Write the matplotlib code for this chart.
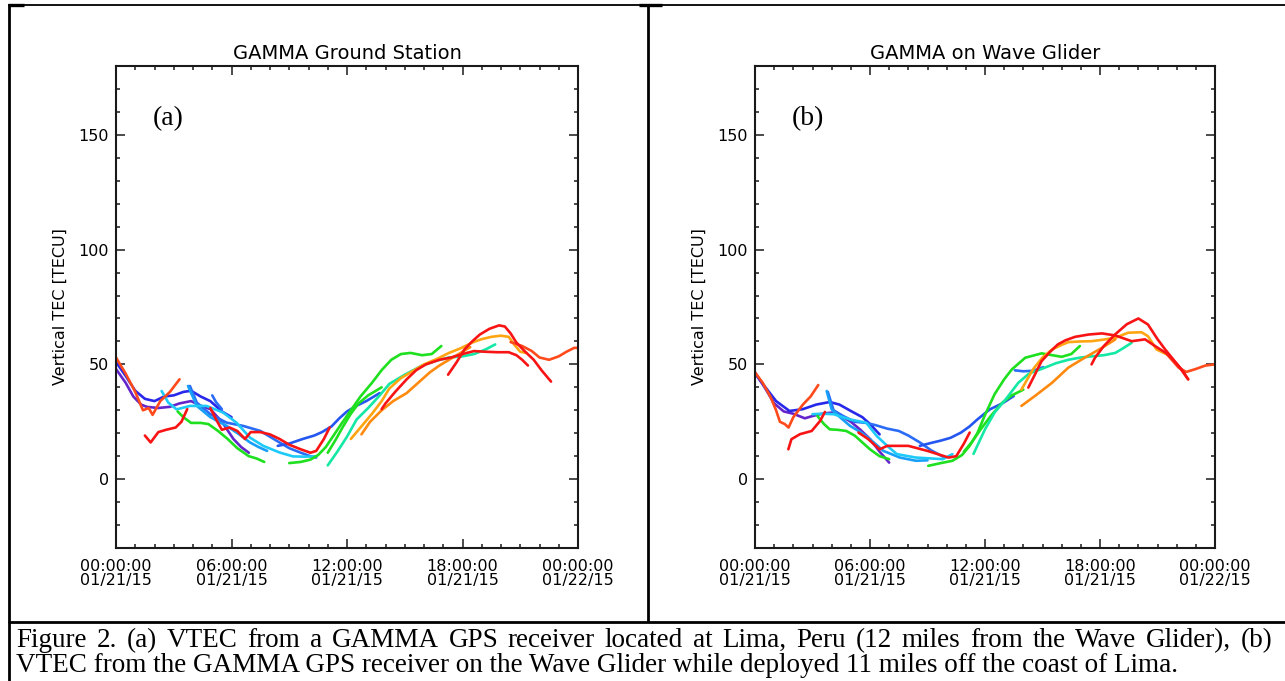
import matplotlib
matplotlib.use('Agg')
import matplotlib.pyplot as plt
from matplotlib.lines import Line2D
from matplotlib.ticker import MultipleLocator

# ---- data: hours after 00:00 UT on 01/21/15, vertical TEC [TECU] ----
# panel (a) GAMMA ground station
a_ro1_h = [0, 0.5, 1.0, 1.4, 1.7, 1.9, 2.3, 2.8, 3.3]
a_ro1_v = [53, 46, 38, 30, 31, 28, 34, 38, 43.5]
a_purple_h = [0, 0.5, 0.9, 1.3, 1.6, 2.2, 2.8, 3.3, 3.9, 4.4, 4.9, 5.5, 6.1, 6.5, 6.9]
a_purple_v = [48, 42, 36, 32.5, 31.5, 31, 31.5, 33, 34, 32, 30.5, 25, 17.5, 14, 11.5]
a_dblue_h = [0, 0.5, 1.0, 1.5, 2.0, 2.5, 3.0, 3.5, 3.9, 4.4, 4.9, 5.5, 6.0]
a_dblue_v = [51, 45, 38.5, 35, 34, 36, 36.5, 38, 38.5, 36, 34, 29.5, 27]
a_mblue_h = [3.84, 4.2, 4.9, 5.75, 6.6, 7.5, 8.35, 9.0, 9.6, 10.1, 10.4]
a_mblue_v = [40.6, 33.3, 28.3, 24.6, 23.2, 21, 16.7, 13.5, 11.5, 10, 9.4]
a_sblue_h = [5.0, 5.2, 5.5]
a_sblue_v = [36.5, 33.5, 30.5]
a_lblue_h = [3.74, 4.2, 4.9, 5.75, 6.4, 6.96, 7.4, 7.85]
a_lblue_v = [40.6, 31.9, 27, 23.2, 19.5, 16, 14, 12.3]
a_cyan_h = [2.37, 2.72, 3.15, 3.84, 4.7, 5.57, 6.26, 6.96, 7.65, 8.5, 9.2, 9.8, 10.4]
a_cyan_v = [38.4, 33.3, 30.4, 31.9, 31.9, 29, 24.6, 18.1, 14.5, 11.6, 9.9, 9.8, 9.9]
a_rblue_h = [8.4, 9.0, 9.7, 10.3, 10.7, 11.2, 11.6, 12.0, 12.5, 13.0, 13.7]
a_rblue_v = [14.5, 15.5, 17.5, 19, 20.5, 23, 26.5, 29.5, 32, 34, 37.5]
a_redlow_h = [1.5, 1.8, 2.2, 2.6, 3.1, 3.4, 3.7]
a_redlow_v = [19, 16, 20.5, 21.5, 22.5, 25, 30.5]
a_redmid_h = [4.9, 5.2, 5.5, 5.9, 6.3, 6.7, 7.0, 7.5, 8.0, 8.5, 9.0, 9.6, 10.1, 10.4, 10.8, 11.1]
a_redmid_v = [31, 26, 21.5, 22.5, 21, 17.5, 20.5, 20.5, 19.5, 17.5, 15, 13, 11.5, 12.3, 17.5, 22.5]
a_green1_h = [3.2, 3.5, 3.9, 4.4, 4.8, 5.3, 5.8, 6.3, 6.9, 7.3, 7.7]
a_green1_v = [29.5, 27, 24.5, 24.5, 24, 21, 17.5, 13.5, 10, 9, 7.5]
a_green2_h = [9.0, 9.6, 10.1, 10.5, 10.9, 11.3, 11.7, 12.2, 12.7, 13.3, 13.8, 14.3, 14.8, 15.3, 15.9, 16.4, 16.9]
a_green2_v = [7, 7.5, 8.5, 10.5, 14, 19, 24, 30, 36, 42, 47.5, 52, 54.5, 55, 54, 54.5, 58]
a_green3_h = [11.0, 11.4, 11.8, 12.2, 12.6, 13.1, 13.8]
a_green3_v = [11.5, 17, 23, 28.5, 33, 36.5, 40]
a_teal_h = [11.0, 11.5, 12.0, 12.5, 13.1, 13.7, 14.2, 15.0, 15.9, 16.6, 17.3, 18.0, 18.6, 19.2, 19.7]
a_teal_v = [6, 12, 18.5, 26, 31, 36.5, 41.5, 45.5, 49.5, 51.5, 53, 53.5, 54.5, 56.5, 58.7]
a_orA_h = [12.2, 12.7, 13.3, 13.8, 14.2, 14.8, 15.4, 16.0, 16.7, 17.3, 17.9, 18.5, 19.0, 19.5, 20.0, 20.4, 20.7, 21.0, 21.3]
a_orA_v = [17.5, 22.5, 28.5, 34, 39.5, 44, 47, 50, 52.5, 55, 57, 59.5, 61, 62, 62.5, 62, 58.5, 55.5, 55]
a_orB_h = [12.75, 13.2, 13.8, 14.4, 15.1, 15.7, 16.3, 16.8, 17.3, 17.9, 18.4]
a_orB_v = [19.5, 25, 30, 34, 37.5, 42, 46.5, 49.5, 52, 55, 57.5]
a_red1_h = [13.8, 14.0, 14.5, 15.1, 15.6, 16.1, 16.8, 17.4, 18.0, 18.6, 19.2, 19.8, 20.4, 20.8, 21.1, 21.4]
a_red1_v = [30.5, 33, 38, 43.5, 47.5, 50, 52, 53, 54.5, 55.8, 55.5, 55.3, 55.3, 54, 52, 49.5]
a_redpk_h = [17.25, 17.7, 18.1, 18.5, 18.9, 19.4, 19.9, 20.2, 20.5, 20.8, 21.2, 21.7, 22.1, 22.6]
a_redpk_v = [45.5, 51, 56.5, 60, 63, 65.5, 67, 66.5, 63.5, 59.5, 56, 52, 47.5, 42.5]
a_ro2_h = [20.5, 21.1, 21.6, 22.0, 22.5, 23.0, 23.4, 23.8, 24.0]
a_ro2_v = [59.7, 58, 55.8, 53, 52, 53.5, 55.5, 57.2, 57.2]

# panel (b) GAMMA on the Wave Glider
b_ro1_h = [0, 0.4, 0.8, 1.1, 1.3, 1.55, 1.75, 2.0, 2.5, 2.9, 3.3]
b_ro1_v = [46.5, 42, 36, 30, 25, 24, 22.5, 27, 32.5, 36, 41]
b_purple_h = [0, 0.5, 1.0, 1.5, 2.0, 2.6, 3.0, 3.5, 4.0, 4.5, 5.0, 5.5, 6.0, 6.5, 7.0]
b_purple_v = [46.5, 40, 33, 29.5, 28.5, 26.5, 27.5, 28.5, 29, 27.5, 25, 21.5, 17.5, 12, 7.2]
b_dblue_h = [0, 0.5, 1.1, 1.8, 2.5, 3.2, 3.9, 4.4, 5.0, 5.6, 6.0, 6.5]
b_dblue_v = [46, 40.5, 34, 29.7, 30.5, 32.5, 33.6, 32.5, 29.7, 27, 24, 19.5]
b_mblue_h = [3.8, 4.1, 4.6, 5.2, 5.8, 6.3, 6.9, 7.5, 8.0, 8.6, 9.2, 9.9]
b_mblue_v = [38, 30, 27.5, 25, 24.5, 23.5, 22, 21, 19, 16, 12.5, 9.4]
b_rblue_h = [8.6, 9.2, 9.7, 10.2, 10.75, 11.2, 11.6, 12.25, 12.9, 13.5]
b_rblue_v = [14.5, 15.8, 16.8, 18, 20.3, 23, 26, 30.4, 33, 36.2]
b_sblue_h = [13.56, 14.0, 14.5, 15.04]
b_sblue_v = [47.4, 47, 47.2, 48.8]
b_lblue_h = [3.74, 4.0, 4.5, 4.96, 5.5, 6.0, 6.7, 7.56, 8.4, 9.0]
b_lblue_v = [38.4, 30.4, 26.5, 23.2, 20.5, 17.4, 12.3, 9.4, 8, 8.2]
b_cyan_h = [3.0, 3.5, 4.1, 4.96, 5.8, 6.35, 6.9, 7.4, 8.4, 9.8, 10.3]
b_cyan_v = [28.3, 28.5, 28.3, 26, 24.6, 18.8, 14.5, 10.9, 9.4, 8.7, 10.9]
b_redlow_h = [1.74, 1.9, 2.35, 2.96, 3.4, 3.65]
b_redlow_v = [13, 17.4, 19.6, 21, 25.4, 29.3]
b_redmid_h = [5.4, 5.9, 6.5, 6.9, 7.5, 8.0, 9.0, 10.1, 10.5, 10.9, 11.2]
b_redmid_v = [20.3, 17.5, 13, 14.5, 14.5, 14.5, 12.3, 9.4, 10, 15.5, 20.3]
b_green1_h = [3.26, 3.6, 3.9, 4.3, 4.76, 5.2, 5.6, 6.0, 6.5, 7.0]
b_green1_v = [27.5, 24, 21.7, 21.5, 21, 19, 16, 13, 10, 8.7]
b_green2_h = [9.04, 9.7, 10.3, 10.8, 11.2, 11.6, 12.0, 12.5, 13.0, 13.4, 14.1, 14.95, 16.0, 16.5, 16.95]
b_green2_v = [5.8, 7, 8, 10.5, 14.5, 20, 28, 37, 43.5, 47.8, 52.9, 54.8, 53.3, 54.5, 58]
b_green3_h = [10.9, 11.3, 11.8, 12.3, 12.9, 13.4, 14.0]
b_green3_v = [12, 16, 22, 27.5, 33.3, 36.5, 39]
b_teal_h = [11.4, 12.0, 12.5, 13.1, 13.74, 14.3, 14.95, 15.7, 16.35, 17.0, 17.56, 18.2, 18.8, 19.2, 19.65]
b_teal_v = [11, 21.7, 29, 35, 42, 46, 48, 50.5, 52, 53, 53.5, 54, 55, 57, 59.4]
b_orA_h = [13.9, 14.5, 15.0, 15.5, 16.0, 16.35, 17.0, 17.56, 18.2, 18.8, 19.47, 20.17, 20.5, 20.95, 21.5]
b_orA_v = [39, 47.8, 53, 56.5, 58.5, 59.7, 60, 60.1, 60.8, 61.6, 63.8, 64, 62.3, 56.5, 54.3]
b_orB_h = [13.9, 14.6, 15.5, 16.35, 17.2, 18.1, 18.8]
b_orB_v = [31.9, 36.2, 42, 48.6, 52.9, 57.2, 60.9]
b_red1_h = [14.26, 14.6, 14.95, 15.4, 15.8, 16.2, 16.7, 17.4, 18.1, 18.8, 19.65, 20.35, 20.87, 21.56, 22.26, 22.6]
b_red1_v = [39.9, 45.5, 51.4, 55.5, 58.7, 60.5, 62, 63, 63.5, 62.6, 60.1, 60.9, 58, 54.3, 47.8, 43.5]
b_redpk_h = [17.56, 17.74, 18.2, 18.78, 19.4, 20.0, 20.5, 21.0, 21.4, 22.1, 22.6]
b_redpk_v = [50, 52.9, 58, 63, 67.5, 70, 67.4, 61, 56.5, 49.3, 43.5]
b_ro2_h = [21.5, 22.1, 22.5, 23.0, 23.5, 24.0]
b_ro2_v = [54.3, 48.6, 46.7, 48, 49.5, 50]

xtick_pos = [0, 6, 12, 18, 24]
xtick_labels = ['00:00:00\n01/21/15', '06:00:00\n01/21/15', '12:00:00\n01/21/15',
                '18:00:00\n01/21/15', '00:00:00\n01/22/15']
ytick_pos = [0, 50, 100, 150]
titles = ['GAMMA Ground Station', 'GAMMA on Wave Glider']
panel_tags = ['(a)', '(b)']
caption1 = 'Figure 2. (a) VTEC from a GAMMA GPS receiver located at Lima, Peru (12 miles from the Wave Glider), (b)'
caption2 = 'VTEC from the GAMMA GPS receiver on the Wave Glider while deployed 11 miles off the coast of Lima.'

PURPLE = '#6426cc'
DBLUE = '#2828ea'
MBLUE = '#2a6cf5'
RBLUE = '#2456f0'
LBLUE = '#18a0f8'
CYAN = '#1ecaf8'
TEAL = '#14e8a4'
GREEN = '#1ee01e'
ORA = '#ffa512'
ORB = '#ff8a0e'
REDOR = '#ff4a1c'
RED = '#f81414'

series_a = [
    (a_purple_h, a_purple_v, PURPLE), (a_dblue_h, a_dblue_v, DBLUE),
    (a_mblue_h, a_mblue_v, MBLUE), (a_sblue_h, a_sblue_v, MBLUE),
    (a_lblue_h, a_lblue_v, LBLUE), (a_cyan_h, a_cyan_v, CYAN),
    (a_rblue_h, a_rblue_v, RBLUE), (a_green1_h, a_green1_v, GREEN),
    (a_green2_h, a_green2_v, GREEN), (a_green3_h, a_green3_v, GREEN),
    (a_teal_h, a_teal_v, TEAL), (a_orA_h, a_orA_v, ORA), (a_orB_h, a_orB_v, ORB),
    (a_ro1_h, a_ro1_v, REDOR), (a_ro2_h, a_ro2_v, REDOR),
    (a_redlow_h, a_redlow_v, RED), (a_redmid_h, a_redmid_v, RED),
    (a_red1_h, a_red1_v, RED), (a_redpk_h, a_redpk_v, RED),
]
series_b = [
    (b_purple_h, b_purple_v, PURPLE), (b_dblue_h, b_dblue_v, DBLUE),
    (b_mblue_h, b_mblue_v, MBLUE), (b_sblue_h, b_sblue_v, MBLUE),
    (b_lblue_h, b_lblue_v, LBLUE), (b_cyan_h, b_cyan_v, CYAN),
    (b_rblue_h, b_rblue_v, RBLUE), (b_green1_h, b_green1_v, GREEN),
    (b_green2_h, b_green2_v, GREEN), (b_green3_h, b_green3_v, GREEN),
    (b_teal_h, b_teal_v, TEAL), (b_orA_h, b_orA_v, ORA), (b_orB_h, b_orB_v, ORB),
    (b_ro1_h, b_ro1_v, REDOR), (b_ro2_h, b_ro2_v, REDOR),
    (b_redlow_h, b_redlow_v, RED), (b_redmid_h, b_redmid_v, RED),
    (b_red1_h, b_red1_v, RED), (b_redpk_h, b_redpk_v, RED),
]

W, H = 1285, 681
fig = plt.figure(figsize=(W / 100, H / 100), dpi=100)
fig.patch.set_facecolor('white')


def fx(x):
    return x / W


def fy(y):
    return 1 - y / H


# table borders of the page
def border(x0, y0, x1, y1, lw=1.5):
    fig.add_artist(Line2D([fx(x0), fx(x1)], [fy(y0), fy(y1)], color='black',
                          lw=lw, transform=fig.transFigure, solid_capstyle='butt'))


border(8, 5, 1285, 5, 1.3)
border(9, 5, 9, 681, 2.0)
border(648, 5, 648, 622, 2.0)
border(8, 622, 1285, 622, 2.0)
border(8, 5, 24, 5, 2.4)
border(639, 5, 662, 5, 2.4)

panel_left = [116, 755]
panel_width = [462, 460]

for i, series in enumerate([series_a, series_b]):
    ax = fig.add_axes([fx(panel_left[i]), fy(548), panel_width[i] / W, 482 / H])
    for h, v, c in series:
        ax.plot(h, v, color=c, lw=1.9, solid_capstyle='round')
    ax.set_xlim(0, 24)
    ax.set_ylim(-30, 180)
    ax.set_xticks(xtick_pos)
    ax.set_xticklabels(xtick_labels, linespacing=0.92, fontsize=11.5, family='DejaVu Sans')
    ax.xaxis.set_minor_locator(MultipleLocator(1))
    ax.set_yticks(ytick_pos)
    ax.set_yticklabels([str(t) for t in ytick_pos], fontsize=11.5, family='DejaVu Sans')
    ax.yaxis.set_minor_locator(MultipleLocator(10))
    ax.tick_params(which='both', direction='in', top=True, right=True, width=1.1, color='#1a1a1a')
    ax.tick_params(which='major', length=6.5)
    ax.tick_params(which='minor', length=3.2)
    ax.tick_params(axis='x', which='major', pad=8)
    ax.tick_params(axis='y', which='major', pad=5)
    for s in ax.spines.values():
        s.set_linewidth(1.5)
        s.set_color('#1a1a1a')
    ax.set_title(titles[i], fontsize=14, family='DejaVu Sans', pad=5)
    ax.set_ylabel('Vertical TEC [TECU]', fontsize=11.5, family='DejaVu Sans')
    ax.yaxis.set_label_coords(-0.104, 0.5)
    ax.text(0.08, 0.878, panel_tags[i], transform=ax.transAxes, fontsize=20,
            family='Liberation Serif', va='baseline')

# caption, first line spread out to the cell width
renderer = fig.canvas.get_renderer()
words = caption1.split(' ')
word_texts = [fig.text(0, fy(647), w, fontsize=19.5, family='Liberation Serif', va='baseline')
              for w in words]
widths = [t.get_window_extent(renderer).width for t in word_texts]
gap = (1273 - 16 - sum(widths)) / (len(words) - 1)
xpos = 16
for t, wd in zip(word_texts, widths):
    t.set_x(fx(xpos))
    xpos += wd + gap
fig.text(fx(16), fy(672), caption2, fontsize=19.5, family='Liberation Serif', va='baseline')

fig.savefig('out.png', dpi=100)
